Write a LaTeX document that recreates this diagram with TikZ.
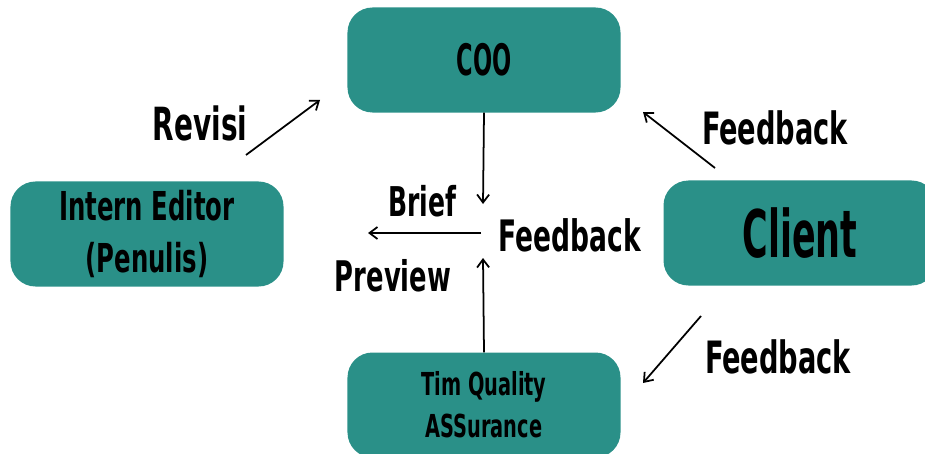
\documentclass[tikz,border=0pt]{standalone}
\usepackage{fontspec}
\usepackage{graphicx}
\setmainfont{DejaVu Sans Condensed}[FakeStretch=0.68]
\usetikzlibrary{arrows.meta}
\definecolor{tealbox}{RGB}{42,144,136}
\tikzset{
  box/.style={fill=tealbox, rounded corners=0.75cm, minimum width=8.19cm,
    minimum height=3.15cm, align=center, inner sep=0pt},
  lbl/.style={inner sep=0pt},
  flow/.style={line width=1.5pt, -{Straight Barb[length=2.4mm,width=3.6mm]}}
}
\newcommand{\bigtxt}[1]{\fontsize{#1}{#1}\selectfont\bfseries}
\newcommand{\squeeze}[2]{\scalebox{#1}[1]{#2}}
\begin{document}
\begin{tikzpicture}[x=0.03cm, y=-0.03cm]
        \useasboundingbox (0,0) rectangle (925,454);
        \clip (0,0) rectangle (925,454);
        % boxes
        \node[box, font=\bigtxt{37}] (coo) at (484,60) {\squeeze{0.85}{COO}};
        \node[box, font=\fontsize{34}{44}\selectfont\bfseries] (editor) at (147,234) {Intern Editor\\(Penulis)};
        \node[box, font=\bigtxt{56}] (client) at (800,233) {\squeeze{0.87}{Client}};
        \node[box, font=\fontsize{27}{36}\selectfont\bfseries] (qa) at (484,405) {Tim Quality\\ASSurance};
        % free ends of the arrows
        \coordinate (briefend) at (483,204);
        \coordinate (prevstart) at (481,233);
        \coordinate (prevend) at (368,233);
        \coordinate (fbmid) at (483,258);
        \coordinate (revstart) at (246,155);
        \coordinate (revend) at (320,100);
        \coordinate (fbtopstart) at (715,168);
        \coordinate (fbtopend) at (643,112);
        \coordinate (fbbotstart) at (701,316);
        \coordinate (fbbotend) at (643,383);
        % arrows
        \draw[flow] (coo.south) -- (briefend);
        \draw[flow] (prevstart) -- (prevend);
        \draw[flow] (qa.north) -- (fbmid);
        \draw[flow] (revstart) -- (revend);
        \draw[flow] (fbtopstart) -- (fbtopend);
        \draw[flow] (fbbotstart) -- (fbbotend);
        % labels
        \node[lbl, font=\bigtxt{39}] (revisi) at (200,123) {Revisi};
        \node[lbl, font=\bigtxt{38}] (fbtop) at (775,128) {Feedback};
        \node[lbl, font=\bigtxt{35}] (brief) at (422,201) {Brief};
        \node[lbl, font=\bigtxt{37}] (fbcenter) at (570,235) {Feedback};
        \node[lbl, font=\bigtxt{36}] (preview) at (393,276) {Preview};
        \node[lbl, font=\bigtxt{38}] (fbbot) at (778,357) {Feedback};
\end{tikzpicture}
\end{document}
